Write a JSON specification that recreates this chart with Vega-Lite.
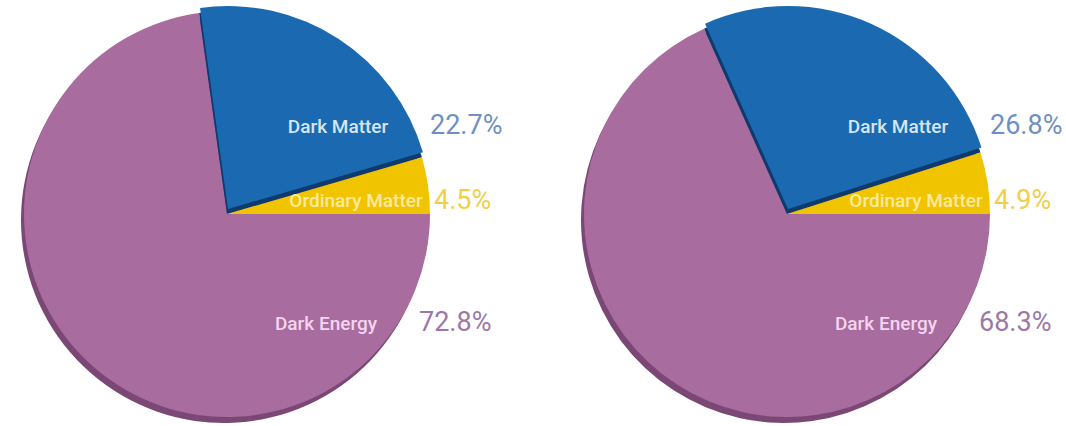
{
  "$schema": "https://vega.github.io/schema/vega-lite/v6.json",
  "padding": 0,
  "background": "white",
  "config": {"view": {"stroke": null}, "text": {"font": "Roboto"}},
  "data": {"values": [
    {"mission": "WMAP", "component": "Dark Energy", "share": 0.728},
    {"mission": "WMAP", "component": "Dark Matter", "share": 0.227},
    {"mission": "WMAP", "component": "Ordinary Matter", "share": 0.045},
    {"mission": "Planck", "component": "Dark Energy", "share": 0.683},
    {"mission": "Planck", "component": "Dark Matter", "share": 0.268},
    {"mission": "Planck", "component": "Ordinary Matter", "share": 0.049}
  ]},
  "facet": {"column": {"field": "mission", "type": "nominal", "sort": ["WMAP", "Planck"], "header": {"title": null, "labels": false}}},
  "spacing": 106,
  "bounds": "flush",
  "spec": {
    "width": 454,
    "height": 428,
    "transform": [
      {"stack": "share", "groupby": ["mission"], "sort": [{"field": "component", "order": "ascending"}], "as": ["t0", "t1"]}
    ],
    "layer": [
      {
        "mark": {"type": "arc", "radius": 203, "color": "#7b4775", "xOffset": -3, "yOffset": 6},
        "encoding": {
          "theta": {"field": "t0", "type": "quantitative", "scale": {"domain": [0, 1], "range": [1.5707963, 7.8539816]}},
          "theta2": {"field": "t1"}
        }
      },
      {
        "mark": {"type": "arc", "radius": 203},
        "encoding": {
          "theta": {"field": "t0", "type": "quantitative", "scale": {"domain": [0, 1], "range": [1.5707963, 7.8539816]}},
          "theta2": {"field": "t1"},
          "color": {"field": "component", "type": "nominal", "legend": null,
            "scale": {"domain": ["Dark Energy", "Dark Matter", "Ordinary Matter"], "range": ["#a86d9e", "#0e3a6c", "#f1c400"]}}
        }
      },
      {
        "transform": [{"filter": "datum.component === 'Dark Matter'"}],
        "mark": {"type": "arc", "radius": 203, "color": "#1b6ab1", "yOffset": -5, "xOffset": 1},
        "encoding": {
          "theta": {"field": "t0", "type": "quantitative", "scale": {"domain": [0, 1], "range": [1.5707963, 7.8539816]}},
          "theta2": {"field": "t1"}
        }
      },
      {
        "transform": [{"filter": "datum.component === 'Dark Matter'"}],
        "mark": {"type": "text", "dx": 111, "dy": -87, "align": "center", "baseline": "middle", "fontSize": 19, "fontWeight": 500, "color": "#d6e6f6"},
        "encoding": {"text": {"field": "component", "type": "nominal"}}
      },
      {
        "transform": [{"filter": "datum.component === 'Ordinary Matter'"}],
        "mark": {"type": "text", "dx": 129, "dy": -13, "align": "center", "baseline": "middle", "fontSize": 19, "fontWeight": 500, "color": "#fbe9a2"},
        "encoding": {"text": {"field": "component", "type": "nominal"}}
      },
      {
        "transform": [{"filter": "datum.component === 'Dark Energy'"}],
        "mark": {"type": "text", "dx": 99, "dy": 110, "align": "center", "baseline": "middle", "fontSize": 19, "fontWeight": 500, "color": "#f4d4ef"},
        "encoding": {"text": {"field": "component", "type": "nominal"}}
      },
      {
        "transform": [{"filter": "datum.component === 'Dark Matter'"}],
        "mark": {"type": "text", "dx": 203, "dy": -88, "align": "left", "baseline": "middle", "fontSize": 27, "color": "#6f90c2"},
        "encoding": {"text": {"field": "share", "type": "quantitative", "format": ".1%"}}
      },
      {
        "transform": [{"filter": "datum.component === 'Ordinary Matter'"}],
        "mark": {"type": "text", "dx": 207, "dy": -13, "align": "left", "baseline": "middle", "fontSize": 27, "color": "#f2cf45"},
        "encoding": {"text": {"field": "share", "type": "quantitative", "format": ".1%"}}
      },
      {
        "transform": [{"filter": "datum.component === 'Dark Energy'"}],
        "mark": {"type": "text", "dx": 192, "dy": 109, "align": "left", "baseline": "middle", "fontSize": 27, "color": "#9b78a8"},
        "encoding": {"text": {"field": "share", "type": "quantitative", "format": ".1%"}}
      }
    ]
  }
}
